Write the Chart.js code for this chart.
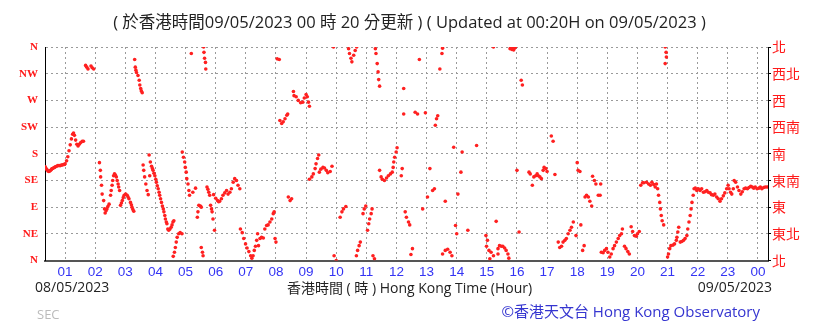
<!DOCTYPE html>
<html>
<head>
<meta charset="utf-8">
<script src="https://cdn.jsdelivr.net/npm/chart.js@4/dist/chart.umd.min.js"></script>
<style>
  html, body { margin: 0; padding: 0; background: #fff; }
  #wrap { position: relative; width: 819px; height: 323px; overflow: hidden; }
  #wrap canvas { position: absolute; left: 0; top: 0; }
  .t { position: absolute; white-space: nowrap; font-family: "Open Sans", "Noto Sans CJK TC", sans-serif; }
</style>
</head>
<body>
<div id="wrap">
  <canvas id="c" width="819" height="323"></canvas>
  <div class="t" style="left:0;width:819px;text-align:center;top:9px;font-size:16.5px;color:#222">( 於香港時間09/05/2023 00 時 20 分更新 ) ( Updated at 00:20H on 09/05/2023 )</div>
  <div class="t" style="left:35px;top:277px;font-size:14px;color:#222">08/05/2023</div>
  <div class="t" style="left:0;width:819px;text-align:center;top:277px;font-size:14px;color:#222">香港時間 ( 時 ) Hong Kong Time (Hour)</div>
  <div class="t" style="right:47px;top:277px;font-size:14px;color:#222">09/05/2023</div>
  <div class="t" style="left:37px;top:305px;font-size:13px;color:#bbb">SEC</div>
  <div class="t" style="right:59px;top:300px;font-size:15px;color:#3535d0">©香港天文台 Hong Kong Observatory</div>
</div>
<script>
// 風向讀數（小時，由 08/05 00:00 起計）
const times = [
  0.34,0.37,0.40,0.43,0.46,0.49,0.52,0.55,0.58,0.61,0.65,0.68,0.72,0.76,0.80,0.84,0.88,0.91,0.95,0.98,1.00,
  1.05,1.09,1.13,1.17,1.21,1.25,1.28,1.31,1.35,1.39,1.43,1.47,1.52,1.57,1.61,
  1.68,1.72,1.76,1.86,1.90,1.95,
  2.14,2.17,2.18,2.21,2.23,2.28,2.31,2.33,2.36,2.39,2.42,2.46,2.51,2.53,2.56,2.58,2.61,2.64,2.67,
  2.70,2.73,2.76,2.78,2.81,2.84,2.87,2.90,2.93,2.96,3.01,3.06,3.09,3.12,3.17,3.20,3.22,3.25,3.28,
  3.31,3.33,3.35,3.37,3.42,3.46,3.48,3.51,3.53,3.56,
  3.59,3.61,3.64,3.68,3.72,3.76,
  3.79,3.81,3.83,3.87,3.90,3.92,3.95,3.98,4.01,4.03,4.06,4.09,4.12,4.14,4.17,
  4.20,4.23,4.26,4.28,4.31,4.33,4.36,4.38,4.41,4.44,4.48,4.52,4.55,4.58,4.61,
  4.59,4.63,4.66,4.69,4.72,4.77,4.82,4.88,
  4.89,4.93,4.97,4.99,5.02,5.04,5.08,5.11,5.13,5.19,5.24,5.33,
  5.39,5.41,5.44,5.49,5.52,5.52,5.56,5.58,
  5.60,5.61,5.63,5.66,5.67,
  5.71,5.74,5.77,5.80,5.83,5.86,5.88,5.91,5.96,5.93,6.00,6.06,6.10,
  6.13,6.19,6.24,6.30,6.36,6.41,6.47,6.52,6.58,6.63,6.69,6.74,6.80,
  6.82,6.88,6.93,6.99,7.04,7.10,7.16,7.20,7.24,7.28,7.32,7.36,7.39,
  7.42,7.47,7.52,7.58,7.63,7.69,7.74,7.80,7.86,7.91,7.94,7.97,8.00,
  8.04,8.11,8.13,8.19,8.24,8.30,8.36,8.39,
  8.41,8.47,8.52,
  8.58,8.60,8.67,8.74,8.82,8.89,8.94,9.00,9.04,9.08,9.11,
  9.11,9.19,9.24,9.30,9.33,9.38,9.42,9.44,9.49,9.56,9.61,9.67,9.72,9.80,9.86,
  9.91,9.93,10.00,10.13,10.19,10.24,10.32,
  10.41,10.44,10.49,10.52,10.58,10.63,10.68,
  10.67,10.71,10.76,10.80,10.89,10.93,10.98,11.04,11.08,11.11,11.16,11.19,11.22,11.27,
  11.30,11.32,11.36,11.39,11.41,11.44,
  11.44,11.49,11.53,11.60,11.67,11.73,11.80,11.86,11.89,11.91,11.94,11.99,12.02,
  12.16,12.19,12.24,12.24,12.29,12.33,12.40,12.44,12.48,12.53,12.62,12.70,12.76,12.87,12.96,
  13.03,13.11,13.20,13.26,13.29,13.33,13.37,13.44,13.51,13.53,13.53,13.62,
  13.70,13.78,13.84,13.62,13.90,13.96,14.00,14.04,14.14,14.18,14.37,14.66,
  14.97,14.99,15.02,15.07,15.10,15.14,15.22,15.22,15.31,15.37,15.37,15.42,15.48,15.53,15.59,15.64,15.70,15.73,
  15.77,15.80,15.83,15.86,15.89,15.92,15.95,16.00,16.07,16.14,16.18,
  16.40,16.44,16.51,16.56,16.62,16.67,16.71,16.76,16.81,16.87,16.90,16.96,17.00,17.14,17.20,17.26,
  17.37,17.42,17.48,17.53,17.59,17.64,17.70,17.76,17.81,17.87,17.96,18.00,18.03,18.09,18.12,18.18,18.23,
  18.26,18.31,18.37,18.42,18.48,18.51,18.57,18.62,18.70,18.76,18.78,
  18.80,18.86,18.91,18.97,19.02,19.08,19.13,19.19,19.24,19.30,19.36,19.41,
  19.47,19.50,19.57,19.62,19.68,19.73,19.79,19.84,19.90,19.96,20.00,20.06,
  20.11,20.17,20.21,20.30,20.37,20.43,20.48,20.54,20.59,20.63,20.67,20.70,20.74,20.76,20.79,20.82,20.87,
  20.92,20.95,20.96,20.92,
  21.00,21.03,21.07,21.11,21.18,21.23,21.29,21.31,21.34,21.37,21.42,21.47,21.53,21.58,21.64,
  21.67,21.71,21.75,21.78,21.81,21.85,21.88,21.92,21.97,22.02,22.08,22.13,22.19,22.24,22.30,
  22.35,22.41,22.46,22.52,22.57,22.63,22.68,22.74,22.79,22.85,22.90,22.96,23.01,23.04,23.09,
  23.13,23.18,23.21,23.26,23.32,23.37,23.43,23.48,23.54,23.59,23.65,23.70,23.76,23.81,23.86,
  23.91,23.97,24.03,24.08,24.13,24.19,24.24,24.30,
];
// 風向（度，0/360 = 北）
const dirs = [
  158,155,153,151,150,151,152,154,155,156,157,158,159,160,160,160,161,161,162,162,163,
  168,175,185,195,205,213,215,211,203,196,193,196,199,201,201,
  329,326,323,328,325,323,
  165,152,141,127,112,101,87,80,84,87,91,95,110,118,127,135,143,146,144,
  141,135,129,124,118,93,97,101,106,110,112,110,107,104,98,94,90,86,83,
  339,326,321,317,312,304,296,290,286,283,
  161,152,141,129,118,111,
  178,143,166,159,155,152,147,143,137,132,126,121,115,110,104,
  98,92,87,82,76,70,65,62,53,51,53,56,60,65,67,
  7,14,22,31,39,45,47,45,
  183,174,166,157,149,138,129,118,110,349,115,122,
  73,82,93,92,90,22,14,8,
  360,351,341,334,323,
  124,120,115,110,93,87,82,70,51,111,105,101,99,
  100,104,110,114,118,112,115,121,132,138,135,127,121,
  53,47,37,28,21,15,8,4,8,17,24,34,45,
  25,37,39,38,53,59,60,65,70,79,82,37,31,
  340,339,236,231,234,239,245,247,
  107,101,104,
  285,278,276,270,266,267,274,280,276,267,260,
  137,141,146,155,163,172,178,149,154,157,156,152,148,150,159,
  360,8,0,73,82,87,91,
  357,349,341,335,346,354,360,
  8,17,25,31,79,87,92,51,62,70,79,87,8,3,
  357,349,332,318,305,294,
  152,141,137,135,139,143,146,149,157,166,174,183,190,
  143,155,290,247,82,73,65,60,10,20,250,247,339,87,249,
  107,155,118,121,228,239,244,323,349,358,11,17,
  19,14,8,100,191,59,45,112,149,183,51,194,
  42,24,34,17,3,14,8,360,66,20,11,25,24,24,21,17,11,4,
  357,359,356,358,355,358,360,152,48,304,296,
  149,146,127,141,143,146,143,141,138,152,157,155,150,210,201,145,
  31,22,24,31,34,37,45,51,56,65,42,165,152,150,60,17,25,
  107,110,107,100,92,142,135,129,110,110,129,
  14,13,17,20,14,6,11,20,25,31,37,42,
  45,53,24,20,15,11,57,49,42,41,45,49,
  127,131,131,132,129,127,132,128,124,129,121,110,98,87,76,67,60,
  360,351,343,332,
  6,11,20,25,26,28,34,39,48,56,31,32,34,37,42,
  53,65,76,87,98,110,121,122,118,121,118,121,115,116,118,
  115,114,111,110,112,107,104,100,104,109,114,121,127,121,115,
  112,121,135,132,124,118,112,116,121,122,121,123,125,124,122,
  124,121,122,124,121,123,124,124,
];

const hourTicks = [1,2,3,4,5,6,7,8,9,10,11,12,13,14,15,16,17,18,19,20,21,22,23,24];
const hourLabels = ['01','02','03','04','05','06','07','08','09','10','11','12','13','14','15','16','17','18','19','20','21','22','23','00'];
const dirTicks = [0,45,90,135,180,225,270,315,360];
const dirLabelsEn = ['N','NE','E','SE','S','SW','W','NW','N'];
const dirLabelsZh = ['北','東北','東','東南','南','西南','西','西北','北'];

const points = times.map((t, i) => ({ x: t, y: dirs[i] }));
const setTicks = (vals) => (s) => { s.ticks = vals.map((v) => ({ value: v })); };
const gridDots = { color: '#9a9a9a', lineWidth: 1 };

new Chart(document.getElementById('c'), {
  type: 'scatter',
  data: {
    datasets: [{
      data: points,
      backgroundColor: '#ff2020',
      borderWidth: 0,
      pointRadius: 1.8,
      pointHoverRadius: 1.8,
    }],
  },
  options: {
    responsive: false,
    animation: false,
    events: [],
    layout: { padding: { top: 47, left: 0, right: 0, bottom: 0 } },
    plugins: { legend: { display: false }, tooltip: { enabled: false } },
    scales: {
      x: {
        type: 'linear', min: 0.333, max: 24.333,
        afterBuildTicks: setTicks(hourTicks),
        afterFit: (s) => { s.height = 62.5; },
        grid: { ...gridDots, drawTicks: false },
        border: { color: '#555', width: 2, dash: [2, 3] },
        ticks: {
          padding: 4, color: '#3434f4', autoSkip: false, maxRotation: 0,
          font: { family: 'Liberation Sans, Arial, sans-serif', size: 13.5 },
          callback: (v) => hourLabels[hourTicks.indexOf(v)],
        },
      },
      y: {
        type: 'linear', position: 'left', min: 0, max: 360,
        afterBuildTicks: setTicks(dirTicks),
        afterFit: (s) => { s.width = 45; },
        grid: { ...gridDots, drawTicks: false },
        border: { color: '#000', width: 1, dash: [2, 3] },
        ticks: {
          padding: 7, color: '#ff1a1a',
          font: { family: 'Liberation Serif, serif', size: 11, weight: 'bold' },
          callback: (v) => dirLabelsEn[dirTicks.indexOf(v)],
        },
      },
      y2: {
        type: 'linear', position: 'right', min: 0, max: 360,
        afterBuildTicks: setTicks(dirTicks),
        afterFit: (s) => { s.width = 51; },
        grid: { drawOnChartArea: false, drawTicks: true, tickLength: 3, tickColor: '#000' },
        border: { color: '#000', width: 1 },
        ticks: {
          padding: 1, color: '#ff1a1a',
          font: { family: 'Noto Sans CJK TC, sans-serif', size: 14 },
          callback: (v) => dirLabelsZh[dirTicks.indexOf(v)],
        },
      },
    },
  },
});
</script>
</body>
</html>
